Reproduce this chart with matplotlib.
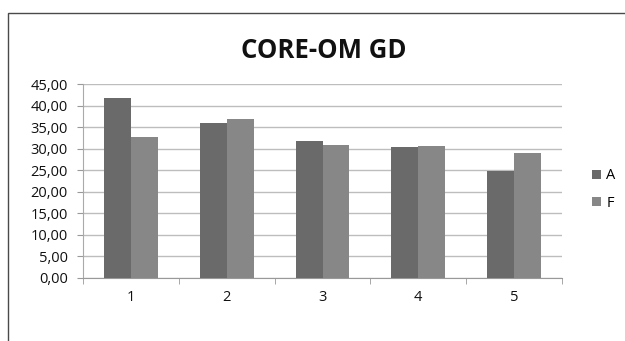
import numpy as np
import matplotlib
matplotlib.use("Agg")
from matplotlib import pyplot as plt
from matplotlib.patches import Rectangle
from matplotlib.ticker import FuncFormatter

# CORE-OM GD scores per group
categories = ["1", "2", "3", "4", "5"]
serie_a = [41.7, 35.9, 31.7, 30.4, 24.8]
serie_f = [32.6, 36.9, 30.9, 30.6, 29.0]
yticks = [0, 5, 10, 15, 20, 25, 30, 35, 40, 45]

plt.rcParams['font.family'] = ['Open Sans', 'DejaVu Sans']

fig = plt.figure(figsize=(6.25, 3.41), dpi=100)
ax = fig.add_axes([83 / 625, 1 - 277.7 / 341, (562 - 83) / 625, (277.7 - 84) / 341])

# chart frame (only left/top edges inside the image)
fig.patches.append(Rectangle((8 / 625, -0.1), 1.2, 1 - 13 / 341 + 0.1,
                             transform=fig.transFigure, fill=False,
                             edgecolor='#4a4a4a', lw=1.0))

x = np.arange(len(categories))
w = 0.28
ax.bar(x - w / 2, serie_a, w, color='#6a6a6a', label='A', zorder=3)
ax.bar(x + w / 2, serie_f, w, color='#878787', label='F', zorder=3)

ax.set_xlim(-0.5, len(categories) - 0.5)
ax.set_ylim(0, 45)
ax.set_yticks(yticks)
ax.yaxis.set_major_formatter(FuncFormatter(lambda v, p: ("%.2f" % v).replace('.', ',')))
ax.set_xticks(x)
ax.set_xticklabels(categories)
ax.set_xticks(np.arange(-0.5, len(categories)), minor=True)
ax.tick_params(axis='x', which='major', length=0, pad=9, labelsize=10.5, colors='#111111')
ax.tick_params(axis='x', which='minor', length=4, color='#999999', direction='out')
ax.tick_params(axis='y', length=4, color='#999999', labelsize=10.5, labelcolor='#111111', pad=7)
ax.grid(axis='y', color='#bdbdbd', lw=1.0, zorder=0)

for s in ['top', 'right']:
    ax.spines[s].set_visible(False)
ax.spines['left'].set_color('#aaaaaa')
ax.spines['bottom'].set_color('#999999')

fig.text(324 / 625, 1 - 50 / 341, "CORE-OM GD", ha='center', va='center',
         fontsize=18.5, fontweight='bold', color='#111111')

ax.legend(loc='center left', bbox_to_anchor=(1.035, 0.455), frameon=False,
          fontsize=10.5, handlelength=0.6, handleheight=0.6, handletextpad=0.4,
          labelspacing=0.85)

fig.savefig("out.png", dpi=100)
